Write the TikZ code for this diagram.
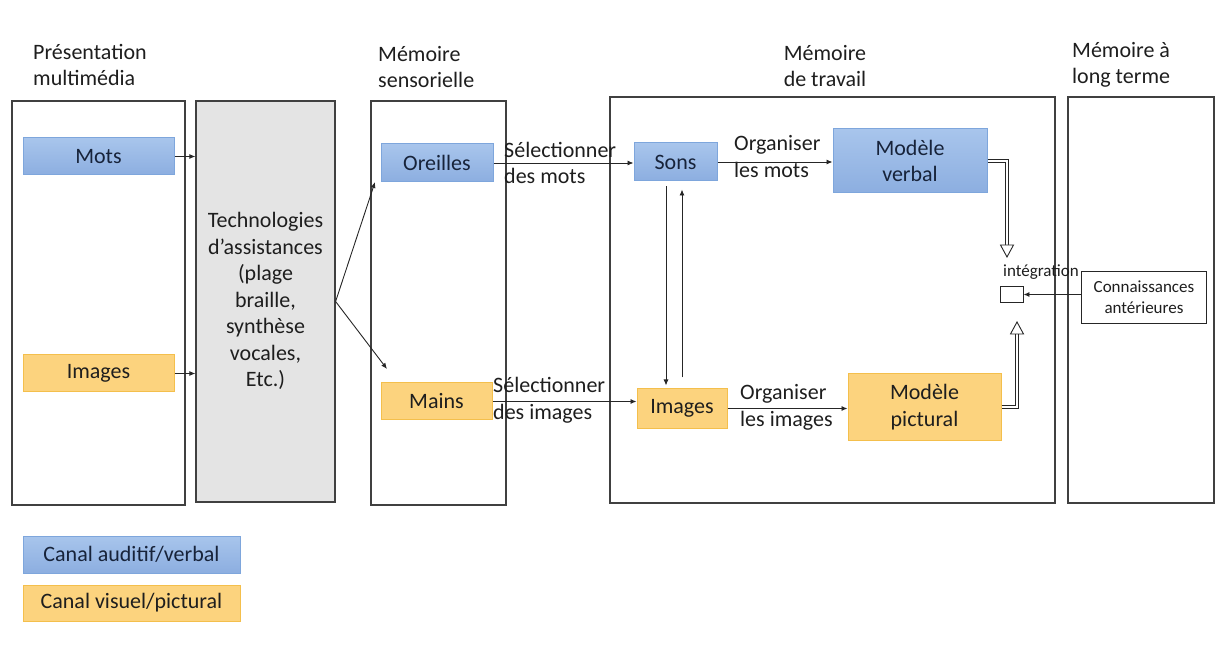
\documentclass[tikz,border=0pt]{standalone}
\usepackage{fontspec}
\setmainfont{Carlito}
\usetikzlibrary{arrows.meta,calc}
\definecolor{bluetop}{HTML}{A8C5EC}
\definecolor{bluebot}{HTML}{8CAEE0}
\definecolor{blued}{HTML}{7EA6DC}
\definecolor{orf}{HTML}{FCD37E}
\definecolor{ord}{HTML}{F4BF4C}
\definecolor{grayf}{HTML}{E4E4E4}
\definecolor{ink}{HTML}{1E1E1E}
\definecolor{navy}{HTML}{17233A}
\begin{document}
\begin{tikzpicture}[x=1pt,y=-1pt,
  every node/.style={font=\fontsize{22}{26.5}\selectfont, text=ink},
  panel/.style={draw=black!75, line width=1.2pt, inner sep=0},
  bluebox/.style={draw=blued, line width=1pt, top color=bluetop, bottom color=bluebot, inner sep=0, text=navy},
  orbox/.style={draw=ord, line width=1pt, fill=orf, inner sep=0},
  arr/.style={-{Latex[length=6pt,width=5pt]}, line width=0.9pt, black!85},
  lbl/.style={align=left, inner sep=0, anchor=west},
  smalltext/.style={font=\fontsize{17}{21}\selectfont},
  dbl/.style={double=white, double distance=2.6pt, line width=0.9pt, black!85},
  headtri/.style={line width=0.9pt, draw=black!85, fill=white}
]
\useasboundingbox (0,0) rectangle (1219,660);

% panels
\node[panel, minimum width=173pt, minimum height=404pt] (p1) at (98.5,303) {};
\node[panel, fill=grayf, minimum width=139pt, minimum height=401pt] (p2) at (265.5,301.5) {};
\node[panel, minimum width=135pt, minimum height=404pt] (p3) at (438.5,303) {};
\node[panel, minimum width=445pt, minimum height=406pt] (p4) at (832.5,300) {};
\node[panel, minimum width=146pt, minimum height=406pt] (p5) at (1141,300) {};

% titles
\node[lbl] (t1) at (33,65) {Présentation\\multimédia};
\node[lbl] (t3) at (378,67) {Mémoire\\sensorielle};
\node[align=center, inner sep=0] (t4) at (825,66) {Mémoire\\de travail};
\node[lbl] (t5) at (1072,65) {Mémoire à\\long terme};

% boxes
\node[bluebox, minimum width=151pt, minimum height=37pt] (mots) at (98.5,156.5) {Mots};
\node[orbox, minimum width=151pt, minimum height=37pt] (imgL) at (98.5,373.5) {Images};
\node[align=center, inner sep=0] (tech) at (265.5,301) {Technologies\\d’assistances\\(plage\\braille,\\synthèse\\vocales,\\Etc.)};
\node[bluebox, minimum width=112pt, minimum height=38pt] (oreilles) at (437,163) {Oreilles};
\node[orbox, minimum width=111pt, minimum height=37pt] (mains) at (436.5,401.5) {Mains};
\node[bluebox, minimum width=83pt, minimum height=38pt] (sons) at (675.5,162) {Sons};
\node[orbox, minimum width=90pt, minimum height=39pt] (imgM) at (682,408.5) {Images};
\node[bluebox, minimum width=154pt, minimum height=64pt, align=center] (verbal) at (910,161) {Modèle\\verbal};
\node[orbox, minimum width=153pt, minimum height=66pt, align=center] (pictural) at (924.5,407) {Modèle\\pictural};
\node[draw=black!85, line width=0.9pt, minimum width=23pt, minimum height=16pt, inner sep=0] (integ) at (1011.5,294.5) {};
\node[smalltext, inner sep=0, anchor=west] (integlbl) at (1003,272) {intégration};
\node[draw=black!85, line width=0.9pt, fill=white, minimum width=125pt, minimum height=52pt, inner sep=0, align=center, smalltext] (conn) at (1144,297) {Connaissances\\antérieures};

% legend
\node[bluebox, minimum width=217pt, minimum height=37pt] (leg1) at (131.5,554.5) {Canal auditif/verbal};
\node[orbox, minimum width=217pt, minimum height=36pt] (leg2) at (131.5,603) {Canal visuel/pictural};

% arrow labels
\node[lbl] (l1) at (504,163) {Sélectionner\\des mots};
\node[lbl] (l2) at (734,156.5) {Organiser\\les mots};
\node[lbl] (l3) at (493,400.5) {Sélectionner\\des images};
\node[lbl] (l4) at (740,407.5) {Organiser\\les images};

% coordinates
\coordinate (ta) at (375,182);
\coordinate (tb) at (387,369);
\coordinate (d1) at (666,0);
\coordinate (d2) at (682,0);
\coordinate (vx) at (1007,0);
\coordinate (px) at (1017,0);
\coordinate (vtip) at (1007,257);
\coordinate (vbase) at (1007,245);
\coordinate (ptip) at (1017,322);
\coordinate (pbase) at (1017,334);

% connectors
\draw[arr] (mots.east) -- (p2.west |- mots.east);
\draw[arr] (imgL.east) -- (p2.west |- imgL.east);
\draw[arr] (p2.east) -- (ta);
\draw[arr] (p2.east) -- (tb);
\draw[arr] (oreilles.east) -- (sons.west |- oreilles.east);
\draw[arr] (sons.east) -- (verbal.west |- sons.east);
\draw[arr] (mains.east) -- (imgM.west |- mains.east);
\draw[arr] (imgM.east) -- (pictural.west |- imgM.east);
\draw[arr, shorten <=5pt, shorten >=3pt] (sons.south -| d1) -- (imgM.north -| d1);
\draw[arr, shorten <=11pt, shorten >=8pt] (imgM.north -| d2) -- (sons.south -| d2);
\draw[arr] (conn.west |- integ.east) -- (integ.east);

% double (hollow) arrows
\draw[dbl] (verbal.east) -| (vbase);
\draw[headtri] (vtip) -- ++(-6.5,-12) -- ++(13,0) -- cycle;
\draw[dbl] (pictural.east) -| (pbase);
\draw[headtri] (ptip) -- ++(-6.5,12) -- ++(13,0) -- cycle;
\end{tikzpicture}
\end{document}
